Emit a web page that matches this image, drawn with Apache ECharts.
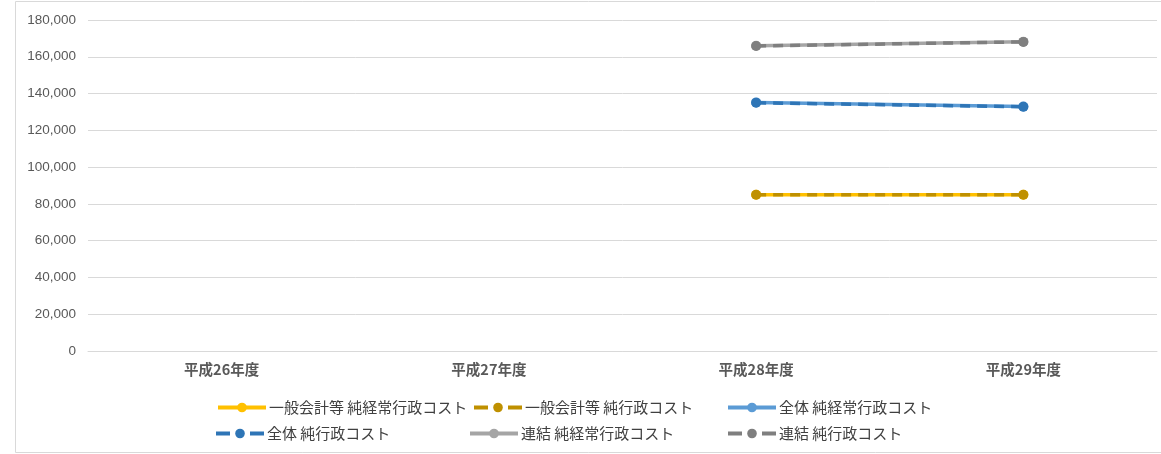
<!DOCTYPE html>
<html><head><meta charset="utf-8">
<script src="https://cdn.jsdelivr.net/npm/echarts@6/dist/echarts.min.js"></script>
<style>html,body{margin:0;padding:0;background:#fff}#c{width:1161px;height:454px}</style>
</head><body><div id="c"></div>
<script>
const categories = ['平成26年度', '平成27年度', '平成28年度', '平成29年度'];
const yTicks = [0, 20000, 40000, 60000, 80000, 100000, 120000, 140000, 160000, 180000];
const ippanKeijo = [null, null, 85000, 85000];
const ippanGyosei = [null, null, 85000, 85000];
const zentaiKeijo = [null, null, 135200, 132900];
const zentaiGyosei = [null, null, 135000, 132800];
const renketsuKeijo = [null, null, 166000, 168200];
const renketsuGyosei = [null, null, 165900, 168100];
const seriesNames = ['一般会計等 純経常行政コスト', '一般会計等 純行政コスト', '全体 純経常行政コスト', '全体 純行政コスト', '連結 純経常行政コスト', '連結 純行政コスト'];
const seriesData = [ippanKeijo, ippanGyosei, zentaiKeijo, zentaiGyosei, renketsuKeijo, renketsuGyosei];
const colors = ['#FFC000', '#BF9000', '#5B9BD5', '#2E75B6', '#A5A5A5', '#7F7F7F'];
const dashed = [false, true, false, true, false, true];
const legendPos = [[216, 400], [472, 400], [726, 400], [214, 426], [468, 426], [726, 426]];

const chart = echarts.init(document.getElementById('c'));
const series = seriesNames.map((n, i) => ({
  name: n, type: 'line', data: seriesData[i], connectNulls: false,
  symbol: 'circle', symbolSize: 10,
  itemStyle: { color: colors[i] },
  lineStyle: { color: colors[i], width: 3.5, type: dashed[i] ? [10, 7] : 'solid', cap: 'butt' },
  emphasis: { disabled: true }, animation: false, z: dashed[i] ? 3 : 2
}));
const legends = seriesNames.map((n, i) => ({
  data: [n], left: legendPos[i][0], top: legendPos[i][1], itemWidth: 48, itemHeight: 12,
  padding: 0, itemGap: 4,
  lineStyle: { width: 4, type: dashed[i] ? [14, 20] : 'solid' },
  textStyle: { fontSize: 15, color: '#404040', fontFamily: 'Noto Sans CJK JP', padding: [0, 0, 0, -2] }, selectedMode: false
}));
chart.setOption({
  animation: false,
  color: colors,
  graphic: [{ type: 'rect', shape: { x: 15.5, y: 1.5, width: 1160, height: 451 }, style: { fill: 'none', stroke: '#d9d9d9', lineWidth: 1 }, silent: true }],
  grid: { left: 88, right: 4, top: 20, bottom: 103 },
  legend: legends,
  xAxis: {
    type: 'category', data: categories, boundaryGap: true,
    axisLine: { lineStyle: { color: '#d9d9d9' } }, axisTick: { show: false },
    axisLabel: { color: '#595959', fontSize: 14.5, margin: 11, fontFamily: 'Noto Sans CJK JP', fontWeight: 'bold' }
  },
  yAxis: {
    type: 'value', min: 0, max: 180000, interval: 20000,
    axisLine: { show: false }, axisTick: { show: false },
    splitLine: { lineStyle: { color: '#d9d9d9' } },
    axisLabel: { color: '#595959', fontSize: 13.5, margin: 12, fontFamily: 'Liberation Sans', formatter: v => v.toLocaleString('en-US') }
  },
  series: series
});
</script></body></html>
